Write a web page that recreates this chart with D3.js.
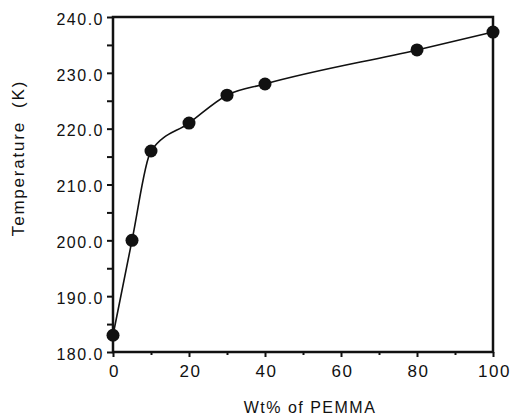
<!DOCTYPE html>
<html>
<head>
<meta charset="utf-8">
<script src="https://cdn.jsdelivr.net/npm/d3@7"></script>
<style>
    body { margin: 0; background: #fff; }
    svg text { font-family: "Liberation Sans", Arial, sans-serif; fill: #111; letter-spacing: 1.5px; }
</style>
</head>
<body>
<svg class="main" width="512" height="418"></svg>
<script>
'use strict';

var wtPercent = [0, 5, 10, 20, 30, 40, 80, 100];
var temperature = [183.0, 200.0, 216.0, 221.0, 226.0, 228.0, 234.1, 237.3];
var xTicks = [0, 20, 40, 60, 80, 100];
var xMinorTicks = [10, 30, 50, 70, 90];
var yTicks = [180, 190, 200, 210, 220, 230, 240];
var yMinorTicks = [185, 195, 205, 215, 225, 235];

var plotLeft = 113, plotRight = 493, plotTop = 17, plotBottom = 352;

var svg = d3.select('svg.main');

var x = d3.scaleLinear().domain([0, 100]).range([plotLeft, plotRight]);
var y = d3.scaleLinear().domain([180, 240]).range([plotBottom, plotTop]);

var points = wtPercent.map(function (d, i) {
    return {x: d, y: temperature[i]};
});

// axes
var xAxis = d3.axisBottom(x).tickValues(xTicks).tickSize(5).tickPadding(8)
    .tickFormat(d3.format('d'));
var xMinor = d3.axisBottom(x).tickValues(xMinorTicks).tickSize(3).tickFormat('');
var yAxis = d3.axisLeft(y).tickValues(yTicks).tickSize(6).tickPadding(5)
    .tickFormat(d3.format('.1f'));
var yMinor = d3.axisLeft(y).tickValues(yMinorTicks).tickSize(6).tickFormat('');

function styleAxis(g) {
    g.select('.domain').remove();
    g.selectAll('.tick line').attr('stroke', '#111').attr('stroke-width', 2);
}

svg.append('g').attr('transform', 'translate(0,' + plotBottom + ')').call(xMinor).call(styleAxis);
var gx = svg.append('g').attr('transform', 'translate(0,' + plotBottom + ')').call(xAxis).call(styleAxis);
gx.selectAll('text').style('font-size', '17px').attr('dx', '1px');

svg.append('g').attr('transform', 'translate(' + plotLeft + ',0)').call(yMinor).call(styleAxis);
var gy = svg.append('g').attr('transform', 'translate(' + plotLeft + ',0)').call(yAxis).call(styleAxis);
gy.selectAll('text').style('font-size', '16px').attr('dy', '0.45em').attr('dx', '2px');

// frame
svg.append('rect')
    .attr('x', plotLeft)
    .attr('y', plotTop)
    .attr('width', plotRight - plotLeft)
    .attr('height', plotBottom - plotTop)
    .attr('fill', 'none')
    .attr('stroke', '#111')
    .attr('stroke-width', 2.5);

// curve
var line = d3.line()
    .x(function (d) { return x(d.x); })
    .y(function (d) { return y(d.y); })
    .curve(d3.curveMonotoneX);

svg.append('path')
    .datum(points)
    .attr('d', line)
    .attr('fill', 'none')
    .attr('stroke', '#111')
    .attr('stroke-width', 1.6);

svg.selectAll('.dot')
    .data(points)
    .enter()
    .append('circle')
    .attr('class', 'dot')
    .attr('cx', function (d) { return x(d.x); })
    .attr('cy', function (d) { return y(d.y); })
    .attr('r', 6.5)
    .attr('fill', '#111');

// labels
svg.append('text')
    .attr('x', 310)
    .attr('y', 413)
    .attr('text-anchor', 'middle')
    .style('font-size', '16px')
    .text('Wt% of PEMMA');

svg.append('text')
    .attr('transform', 'translate(24,158) rotate(-90)')
    .attr('text-anchor', 'middle')
    .style('font-size', '17px')
    .style('letter-spacing', '1.8px')
    .style('white-space', 'pre')
    .text('Temperature  (K)');
</script>
</body>
</html>
